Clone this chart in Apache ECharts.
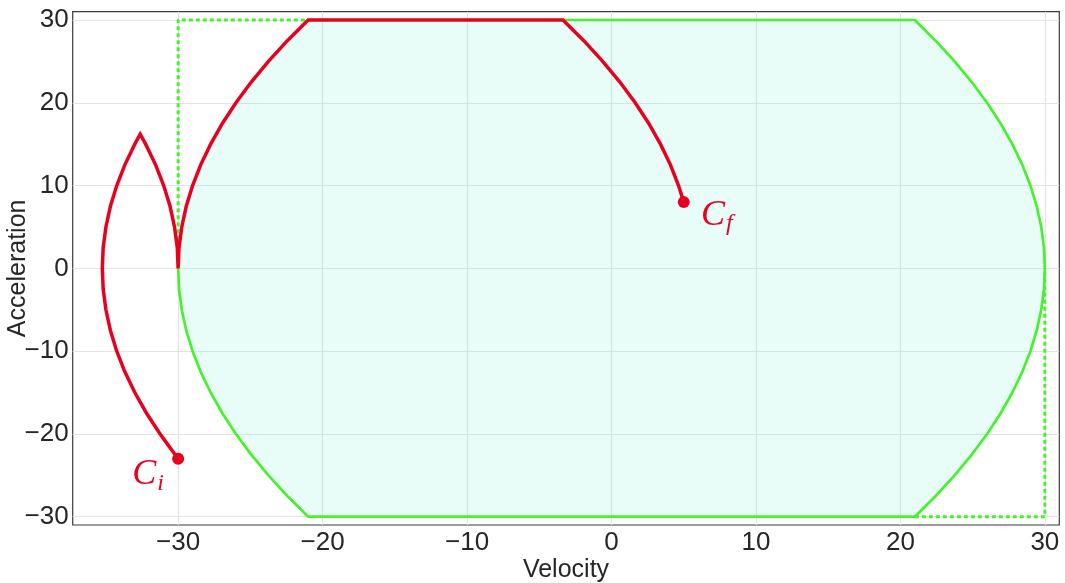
<!DOCTYPE html>
<html>
<head>
<meta charset="utf-8">
<script src="https://cdn.jsdelivr.net/npm/echarts@6/dist/echarts.min.js"></script>
<style>
html,body{margin:0;padding:0;background:#fff;}
#chart{width:1065px;height:583px;}
</style>
</head>
<body>
<div id="chart"></div>
<script>
// ---- data (velocity, acceleration) ----
const xTicks = [-30, -20, -10, 0, 10, 20, 30];
const yTicks = [-30, -20, -10, 0, 10, 20, 30];

// red trajectory: first lobe (from C_i)
const lobeOutV = [-30.0, -30.63, -31.25, -32.19, -33.0, -33.69, -34.25, -34.69, -35.0, -35.19, -35.25, -35.19, -35.0, -34.69, -34.25, -33.69, -33.0, -32.63];
const lobeOutA = [-23, -21.5, -20, -17.5, -15, -12.5, -10, -7.5, -5, -2.5, 0, 2.5, 5, 7.5, 10, 12.5, 15, 16.2];
const lobeInV = [-32.25, -31.56, -31.0, -30.56, -30.25, -30.06, -30.0];
const lobeInA = [15, 12.5, 10, 7.5, 5, 2.5, 0];
// red trajectory: climb along the left boundary
const climbV = [-29.94, -29.75, -29.44, -29.0, -28.44, -27.75, -26.94, -26.0, -24.94, -23.75, -22.44, -21.0];
const climbA = [2.5, 5, 7.5, 10, 12.5, 15, 17.5, 20, 22.5, 25, 27.5, 30];
// red trajectory: cruise at max acceleration then descend to C_f
const finishV = [-3.36, -1.92, -0.61, 0.58, 1.64, 2.58, 3.39, 4.08, 4.64, 5.0];
const finishA = [30, 27.5, 25, 22.5, 20, 17.5, 15, 12.5, 10, 8];

// green feasible-region boundary
const boundV = [-21, 21, 22.44, 23.75, 24.94, 26.0, 26.94, 27.75, 28.44, 29.0, 29.44, 29.75, 29.94, 30.0, 29.94, 29.75, 29.44, 29.0, 28.44, 27.75, 26.94, 26.0, 24.94, 23.75, 22.44, 21.0, -21.0, -22.44, -23.75, -24.94, -26.0, -26.94, -27.75, -28.44, -29.0, -29.44, -29.75, -29.94, -30.0];
const boundA = [30, 30, 27.5, 25, 22.5, 20, 17.5, 15, 12.5, 10, 7.5, 5, 2.5, 0, -2.5, -5, -7.5, -10, -12.5, -15, -17.5, -20, -22.5, -25, -27.5, -30, -30, -27.5, -25, -22.5, -20, -17.5, -15, -12.5, -10, -7.5, -5, -2.5, 0];
// green dotted limits
const dotLeftV = [-30, -30, -21];
const dotLeftA = [0, 30, 30];
const dotRightV = [21, 30, 30];
const dotRightA = [-30, -30, 0];

// marked configurations
const pointNames = ['i', 'f'];
const pointV = [-30, 5];
const pointA = [-23, 8];

// ---- build ----
const zip = (v, a) => v.map((x, i) => [x, a[i]]);
const trajectory = [].concat(zip(lobeOutV, lobeOutA), zip(lobeInV, lobeInA), zip(climbV, climbA), zip(finishV, finishA));
const boundary = zip(boundV, boundA);
const regionPoly = boundary.concat(zip(climbV, climbA));

const RED = '#e8001f';
const GREEN = '#45f22c';
const TXT = '#262626';
const fmt = v => (v < 0 ? '\u2212' + Math.abs(v) : String(v));

const chart = echarts.init(document.getElementById('chart'));
chart.setOption({
  animation: false,
  backgroundColor: '#fff',
  grid: { left: 72.7, right: 5.7, top: 11.7, bottom: 58, outerBoundsMode: 'none', containLabel: false,
          show: true, borderColor: '#3a3a3a', borderWidth: 1.2, backgroundColor: 'transparent' },
  xAxis: {
    type: 'value', min: -37.3, max: 31,
    name: 'Velocity', nameLocation: 'middle', nameGap: 33, nameMoveOverlap: false,
    nameTextStyle: { fontFamily: 'Liberation Sans', fontSize: 25, color: TXT },
    axisLine: { show: false }, axisTick: { show: false, customValues: xTicks },
    axisLabel: { customValues: xTicks, formatter: fmt, fontFamily: 'Liberation Sans', fontSize: 26, color: TXT, margin: 5 },
    splitLine: { show: true, lineStyle: { color: '#e3e3e3', width: 1.2 } }
  },
  yAxis: {
    type: 'value', min: -31, max: 31,
    name: 'Acceleration', nameLocation: 'middle', nameGap: 42, nameMoveOverlap: false,
    nameTextStyle: { fontFamily: 'Liberation Sans', fontSize: 25, color: TXT },
    axisLine: { show: false }, axisTick: { show: false, customValues: yTicks },
    axisLabel: { customValues: yTicks, formatter: fmt, fontFamily: 'Liberation Sans', fontSize: 26, color: TXT, margin: 4 },
    splitLine: { show: true, lineStyle: { color: '#e3e3e3', width: 1.2 } }
  },
  series: [
    {
      type: 'custom', z: 1, silent: true,
      data: [[0, 0]],
      renderItem: function (params, api) {
        const pts = regionPoly.map(p => api.coord(p));
        return { type: 'polygon', shape: { points: pts }, style: { fill: 'rgba(120,245,215,0.17)', stroke: null } };
      }
    },
    { type: 'line', z: 2, data: zip(dotLeftV, dotLeftA), showSymbol: false, lineStyle: { color: GREEN, width: 3, type: [4, 3] } },
    { type: 'line', z: 2, data: zip(dotRightV, dotRightA), showSymbol: false, lineStyle: { color: GREEN, width: 3, type: [4, 3] } },
    { type: 'line', z: 3, data: boundary, showSymbol: false, lineStyle: { color: GREEN, width: 2.7 } },
    { type: 'line', z: 4, data: trajectory, showSymbol: false, lineStyle: { color: RED, width: 3.5, join: 'miter' } },
    {
      type: 'scatter', z: 5, symbol: 'circle', symbolSize: 12, itemStyle: { color: RED, opacity: 1 },
      data: pointV.map((v, i) => ({
        value: [v, pointA[i]], name: pointNames[i],
        label: { offset: i === 0 ? [-30, 16] : [33, 13] }
      })),
      label: {
        show: true, position: 'inside',
        formatter: p => '{c|C}{s|' + p.name + '}',
        rich: {
          c: { fontFamily: 'Liberation Serif', fontStyle: 'italic', fontSize: 36, color: RED },
          s: { fontFamily: 'Liberation Serif', fontStyle: 'italic', fontSize: 24, color: RED, padding: [18, 0, 0, 1] }
        }
      }
    }
  ]
});
</script>
</body>
</html>
